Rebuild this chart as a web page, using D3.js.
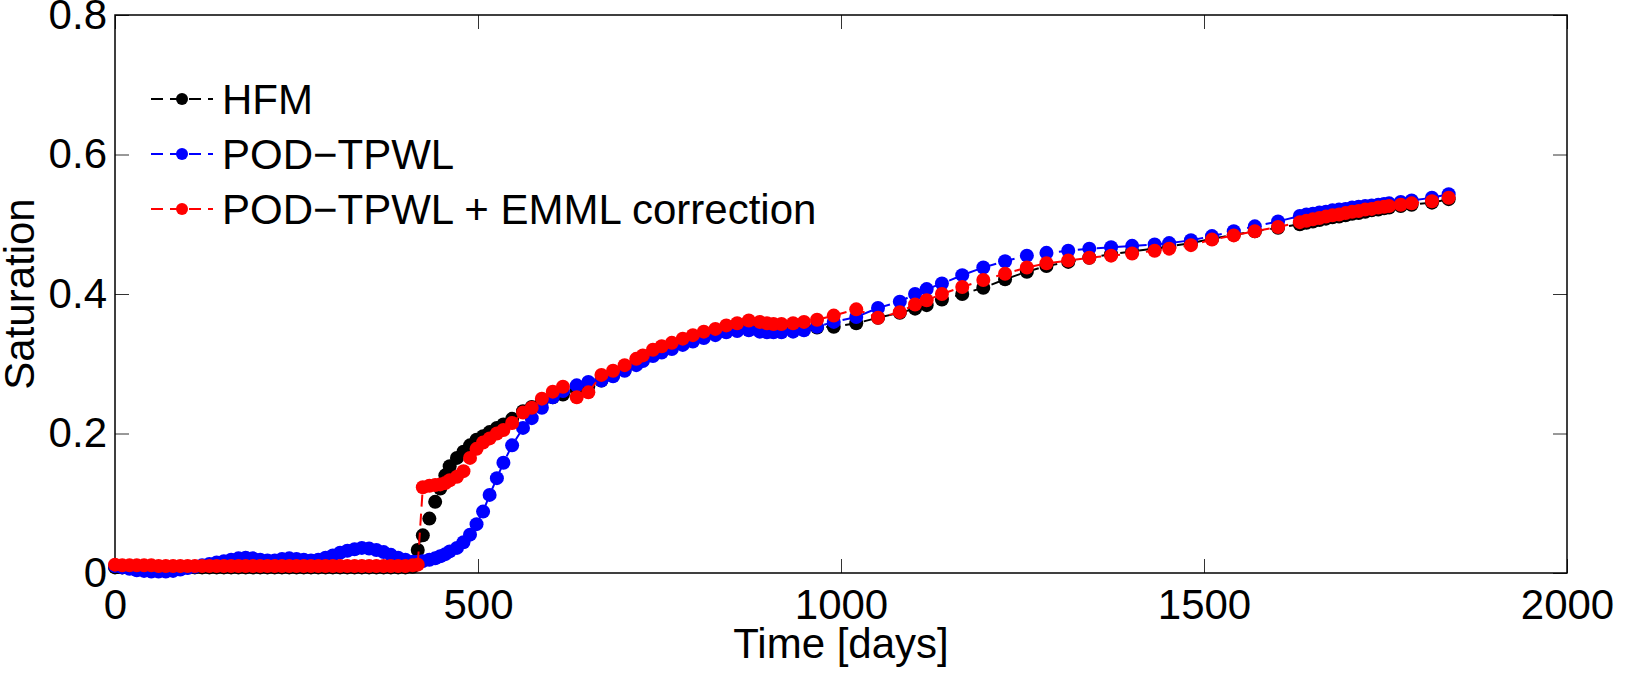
<!DOCTYPE html>
<html>
<head>
<meta charset="utf-8">
<script src="https://cdn.jsdelivr.net/npm/d3@7"></script>
<style>
    body { margin: 0; background: #fff; }
    text { font-family: "Liberation Sans", Arial, Helvetica, sans-serif; }
</style>
</head>
<body>
<div id="chart"></div>
<script>
// time steps shared by all three runs
const days = [
    0, 10, 20, 30, 40, 50, 60, 70, 80, 90,
    100, 110, 120, 130, 140, 150, 160, 170, 180, 190,
    200, 210, 220, 230, 240, 250, 260, 270, 280, 290,
    300, 310, 320, 330, 340, 350, 360, 370, 380, 390,
    400, 410, 417, 424, 433, 441, 448, 455, 461, 471,
    480, 489, 498, 507, 516, 526, 535, 547, 562, 574,
    588, 603, 617, 636, 652, 670, 686, 702, 718, 727,
    741, 753, 767, 782, 796, 811, 827, 842, 857, 873,
    888, 898, 907, 918, 934, 949, 967, 990, 1021, 1051,
    1081, 1102, 1118, 1139, 1167, 1196, 1226, 1256, 1283, 1313,
    1342, 1372, 1401, 1432, 1452, 1482, 1511, 1541, 1570, 1602,
    1632, 1641, 1650, 1659, 1668, 1677, 1686, 1695, 1704, 1713,
    1722, 1731, 1740, 1748, 1755, 1771, 1786, 1814, 1837
];

const hfm = [
    .008, .008, .008, .008, .008, .008, .008, .008, .008, .008,
    .008, .008, .008, .008, .008, .008, .008, .008, .008, .008,
    .008, .008, .008, .008, .008, .008, .008, .008, .008, .008,
    .008, .008, .008, .008, .008, .008, .008, .008, .008, .008,
    .008, .009, .033, .054, .078, .102, .121, .140, .153, .165,
    .174, .183, .191, .196, .202, .208, .213, .221, .232, .238,
    .246, .252, .256, .262, .268, .276, .283, .291, .300, .305,
    .313, .318, .323, .329, .334, .339, .343, .347, .350, .352,
    .351, .350, .349, .349, .350, .351, .352, .353, .358, .366,
    .373, .379, .384, .392, .400, .409, .421, .432, .440, .446,
    .452, .457, .461, .465, .468, .473, .479, .485, .490, .495,
    .500, .502, .504, .506, .508, .510, .511, .513, .515, .516,
    .518, .520, .521, .523, .524, .526, .528, .531, .536
];

const podTpwl = [
    .010, .008, .006, .004, .003, .002, .002, .002, .003, .005,
    .007, .009, .011, .013, .015, .017, .019, .021, .022, .021,
    .019, .018, .018, .020, .021, .020, .019, .018, .019, .022,
    .025, .029, .032, .034, .036, .035, .033, .030, .026, .022,
    .019, .016, .016, .017, .019, .021, .024, .027, .031, .036,
    .044, .055, .070, .088, .112, .136, .158, .183, .208, .222,
    .237, .252, .261, .269, .274, .276, .282, .290, .298, .304,
    .311, .316, .321, .327, .332, .337, .341, .345, .347, .348,
    .346, .345, .345, .345, .346, .348, .353, .360, .367, .380,
    .389, .400, .407, .415, .427, .438, .447, .455, .459, .462,
    .465, .467, .469, .471, .473, .477, .483, .490, .497, .504,
    .512, .514, .515, .517, .518, .520, .521, .522, .524, .525,
    .526, .527, .528, .529, .530, .532, .534, .538, .543
];

const podTpwlEmml = [
    .012, .011, .011, .011, .011, .011, .010, .010, .010, .010,
    .010, .010, .010, .010, .010, .010, .010, .010, .010, .010,
    .010, .010, .010, .010, .010, .010, .010, .010, .010, .010,
    .010, .010, .010, .010, .010, .010, .010, .010, .010, .010,
    .010, .011, .012, .123, .125, .126, .127, .129, .133, .138,
    .146, .165, .178, .187, .193, .200, .205, .215, .230, .237,
    .250, .260, .267, .252, .259, .284, .290, .298, .307, .312,
    .320, .325, .330, .336, .341, .346, .350, .355, .358, .362,
    .360, .358, .357, .357, .358, .360, .363, .369, .378, .366,
    .374, .385, .391, .400, .410, .420, .429, .438, .444, .448,
    .452, .455, .458, .462, .465, .470, .478, .484, .490, .496,
    .503, .505, .507, .509, .511, .513, .514, .516, .518, .519,
    .521, .522, .524, .525, .526, .528, .530, .533, .538
];

const seriesNames = ["HFM", "POD\u2212TPWL", "POD\u2212TPWL + EMML correction"];
const seriesColors = ["#000000", "#0000ff", "#ff0000"];
const xTickValues = [0, 500, 1000, 1500, 2000];
const yTickValues = [0, 0.2, 0.4, 0.6, 0.8];

const width = 1638;
const height = 684;
const margin = { top: 15, right: 71, bottom: 111, left: 115 };
const fontSize = 42;

function drawChart() {
    const innerWidth = width - margin.left - margin.right;
    const innerHeight = height - margin.top - margin.bottom;
    const tickLen = 14;

    const svg = d3.select("#chart")
        .append("svg")
        .attr("width", width)
        .attr("height", height);
    const graph = svg.append("g")
        .attr("transform", `translate(${margin.left},${margin.top})`);

    const x = d3.scaleLinear().domain([0, 2000]).range([0, innerWidth]);
    const y = d3.scaleLinear().domain([0, 0.8]).range([innerHeight, 0]);

    // axes: ticks point inwards on all four sides (matlab box style)
    const styleAxis = g => {
        g.select(".domain").remove();
        g.selectAll(".tick line").attr("stroke", "#333").attr("stroke-width", 1);
        g.selectAll(".tick text")
            .attr("fill", "#000")
            .attr("font-size", fontSize)
            .attr("font-family", "Liberation Sans, Arial, sans-serif");
    };

    graph.append("g")
        .attr("transform", `translate(0,${innerHeight})`)
        .call(d3.axisBottom(x).tickValues(xTickValues).tickSizeInner(-tickLen)
            .tickSizeOuter(0).tickPadding(16).tickFormat(d3.format("d")))
        .call(styleAxis);
    graph.append("g")
        .call(d3.axisTop(x).tickValues(xTickValues).tickSizeInner(-tickLen)
            .tickSizeOuter(0).tickFormat(""))
        .call(styleAxis);
    graph.append("g")
        .call(d3.axisLeft(y).tickValues(yTickValues).tickSizeInner(-tickLen)
            .tickSizeOuter(0).tickPadding(8)
            .tickFormat(d => d === 0 ? "0" : d3.format(".1f")(d)))
        .call(styleAxis);
    graph.append("g")
        .attr("transform", `translate(${innerWidth},0)`)
        .call(d3.axisRight(y).tickValues(yTickValues).tickSizeInner(-tickLen)
            .tickSizeOuter(0).tickFormat(""))
        .call(styleAxis);

    graph.append("rect")
        .attr("width", innerWidth)
        .attr("height", innerHeight)
        .attr("fill", "none")
        .attr("stroke", "#000")
        .attr("stroke-width", 1.5);

    // series
    const allSeries = [hfm, podTpwl, podTpwlEmml].map((vals, i) => ({
        name: seriesNames[i],
        color: seriesColors[i],
        points: days.map((d, j) => [d, vals[j]])
    }));

    const line = d3.line()
        .x(d => x(d[0]))
        .y(d => y(d[1]));

    allSeries.forEach(s => {
        const g = graph.append("g");
        g.append("path")
            .datum(s.points)
            .attr("d", line)
            .attr("fill", "none")
            .attr("stroke", s.color)
            .attr("stroke-width", 2)
            .attr("stroke-dasharray", "12,7");
        g.selectAll("circle")
            .data(s.points)
            .join("circle")
            .attr("cx", d => x(d[0]))
            .attr("cy", d => y(d[1]))
            .attr("r", 7)
            .attr("fill", s.color);
    });

    // axis labels
    svg.append("text")
        .attr("x", margin.left + innerWidth / 2)
        .attr("y", 658)
        .attr("text-anchor", "middle")
        .attr("font-size", fontSize)
        .text("Time [days]");
    svg.append("text")
        .attr("transform", `translate(34,${margin.top + innerHeight / 2}) rotate(-90)`)
        .attr("text-anchor", "middle")
        .attr("font-size", fontSize)
        .text("Saturation");

    // legend (no box)
    const legend = svg.append("g");
    const rowY = [99, 154, 209];
    allSeries.forEach((s, i) => {
        const row = legend.append("g").attr("transform", `translate(0,${rowY[i]})`);
        row.append("line")
            .attr("x1", 151).attr("x2", 213)
            .attr("stroke", s.color)
            .attr("stroke-width", 2)
            .attr("stroke-dasharray", "12,7");
        row.append("circle")
            .attr("cx", 182)
            .attr("r", 6)
            .attr("fill", s.color);
        row.append("text")
            .attr("x", 222)
            .attr("dy", "0.36em")
            .attr("font-size", fontSize)
            .text(s.name);
    });
}

drawChart();
</script>
</body>
</html>
